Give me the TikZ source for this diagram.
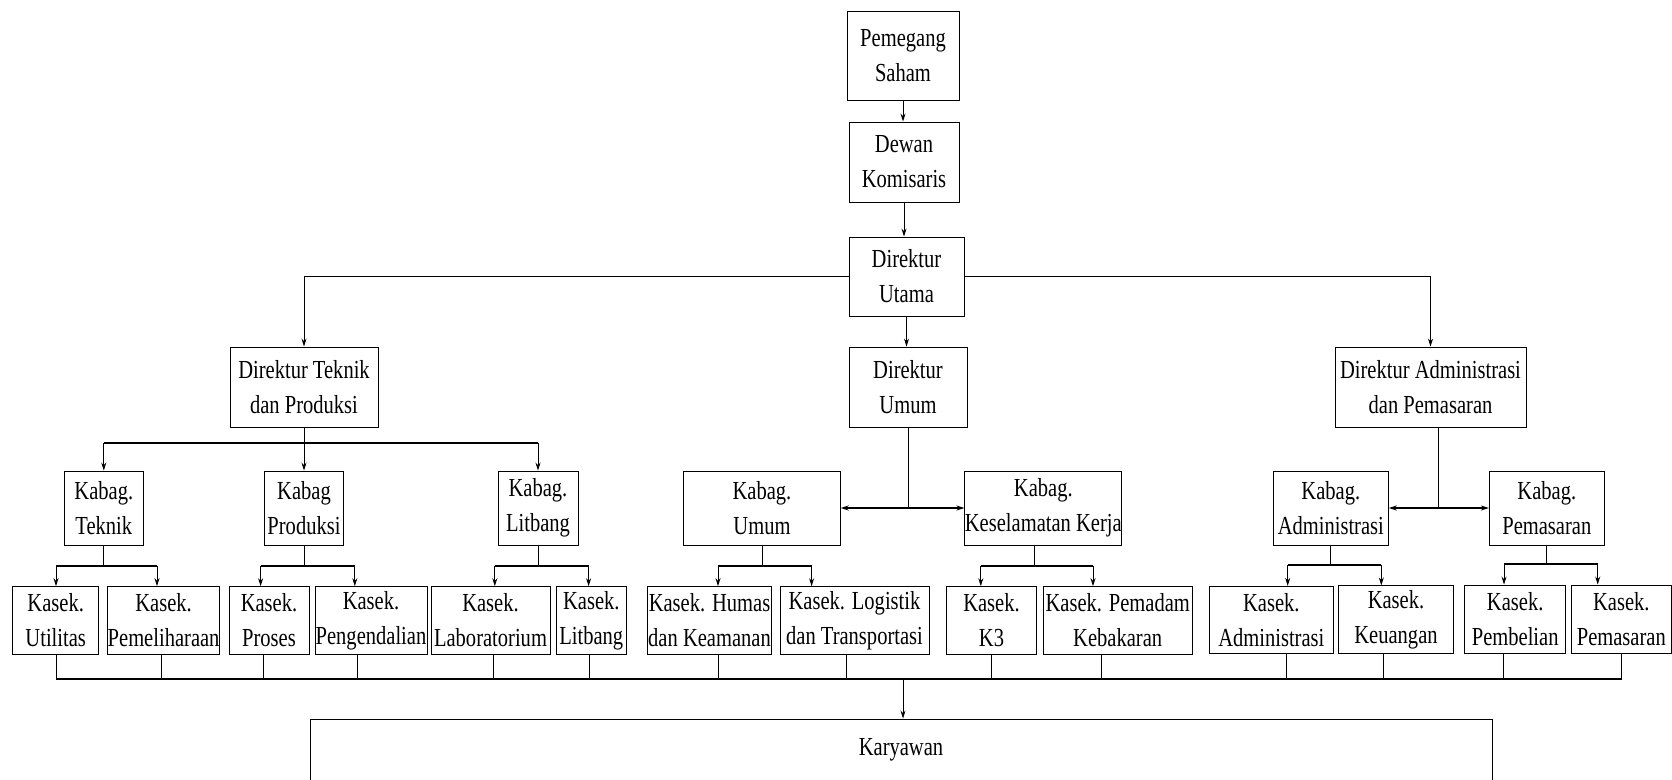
\documentclass[tikz,border=0pt]{standalone}
\usepackage{fontspec}
\setmainfont{Liberation Serif}[FakeStretch=0.79]
\usetikzlibrary{arrows.meta}
\begin{document}
\begin{tikzpicture}[x=1pt,y=-1pt,
  box/.style={draw, line width=0.9pt, inner sep=0pt, align=center, font=\fontsize{26}{35}\selectfont},
  conn/.style={line width=0.9pt},
  bar/.style={line width=1.8pt},
  arr/.style={line width=0.9pt, -{Stealth[length=8pt,width=5pt]}},
  darr/.style={line width=1.5pt, {Stealth[length=8pt,width=5pt]}-{Stealth[length=8pt,width=5pt]}},
]
\clip (0,0) rectangle (1672,779);
\fill[white] (0,0) rectangle (1672,779);

% top
\node[box, minimum width=112pt, minimum height=89pt] (ps) at (903,55.5) {Pemegang\\Saham};
\node[box, minimum width=110pt, minimum height=80pt] (dk) at (904,162) {Dewan\\Komisaris};
\node[box, minimum width=115pt, minimum height=79pt] (du) at (906.5,276.5) {Direktur\\Utama};

% directors
\node[box, minimum width=148pt, minimum height=80pt] (dt) at (304,387) {Direktur Teknik\\dan Produksi};
\node[box, minimum width=118pt, minimum height=80pt] (dum) at (908,387) {Direktur\\Umum};
\node[box, minimum width=191pt, minimum height=80pt] (da) at (1430.5,387) {Direktur Administrasi\\dan Pemasaran};

% kabag
\node[box, minimum width=79.5pt, minimum height=74pt] (kt) at (103.8,508) {Kabag.\\Teknik};
\node[box, minimum width=79.3pt, minimum height=74pt] (kp) at (304,508) {Kabag\\Produksi};
\node[box, minimum width=80pt, minimum height=74pt] (kl) at (538,508) {Kabag.\\Litbang};
\node[box, minimum width=156.5pt, minimum height=74pt] (ku) at (762,508) {Kabag.\\Umum};
\node[box, minimum width=156.6pt, minimum height=74pt] (kk) at (1043.3,508) {Kabag.\\Keselamatan Kerja};
\node[box, minimum width=115pt, minimum height=74pt] (ka) at (1330.8,508) {Kabag.\\Administrasi};
\node[box, minimum width=115pt, minimum height=74pt] (km) at (1546.8,508) {Kabag.\\Pemasaran};

% kasek
\node[box, minimum width=86pt, minimum height=67.3pt] (s1) at (55.7,620.3) {Kasek.\\Utilitas};
\node[box, minimum width=112pt, minimum height=67.3pt] (s2) at (163.6,620.3) {Kasek.\\Pemeliharaan};
\node[box, minimum width=80pt, minimum height=67.3pt] (s3) at (269,620.3) {Kasek.\\Proses};
\node[box, minimum width=112pt, minimum height=67.3pt] (s4) at (371,620.3) {Kasek.\\Pengendalian};
\node[box, minimum width=119pt, minimum height=67.3pt] (s5) at (490.5,620.3) {Kasek.\\Laboratorium};
\node[box, minimum width=69.5pt, minimum height=67.3pt] (s6) at (591.3,620.3) {Kasek.\\Litbang};
\node[box, minimum width=124pt, minimum height=67.3pt] (s7) at (709.5,620.3) {Kasek. Humas\\dan Keamanan};
\node[box, minimum width=149pt, minimum height=67.3pt] (s8) at (854.5,620.3) {Kasek. Logistik\\dan Transportasi};
\node[box, minimum width=89.6pt, minimum height=67.3pt] (s9) at (991.5,620.3) {Kasek.\\K3};
\node[box, minimum width=149.4pt, minimum height=67.3pt] (s10) at (1117.7,620.3) {Kasek. Pemadam\\Kebakaran};
\node[box, minimum width=124pt, minimum height=67.3pt] (s11) at (1271.3,620) {Kasek.\\Administrasi};
\node[box, minimum width=114.6pt, minimum height=67.3pt] (s12) at (1396,619.5) {Kasek.\\Keuangan};
\node[box, minimum width=101pt, minimum height=68pt] (s13) at (1515.2,619) {Kasek.\\Pembelian};
\node[box, minimum width=99.5pt, minimum height=68pt] (s14) at (1621.3,619) {Kasek.\\Pemasaran};

% karyawan
\node[box, minimum width=1182pt, minimum height=62pt] (kar) at (901,750) {Karyawan};

% top connectors
\draw[arr] (ps.south) -- (ps.south |- dk.north);
\draw[arr] (dk.south) -- (dk.south |- du.north);
\draw[arr] (du.south) -- (du.south |- dum.north);
\draw[bar] (du.west) -- (du.west -| dt.north);
\draw[arr] (du.west -| dt.north) -- (dt.north);
\draw[bar] (du.east) -- (du.east -| da.north);
\draw[arr] (du.east -| da.north) -- (da.north);

% level coordinates
\coordinate (yA) at (0,442.7);
\coordinate (yC) at (0,679);

% direktur teknik to kabag
\draw[conn] (dt.south) -- (dt.south |- yA);
\draw[bar] (kt.north |- yA) -- (kl.north |- yA);
\foreach \n in {kt,kp,kl} \draw[arr] (\n.north |- yA) -- (\n.north);

% direktur umum / administrasi
\draw[conn] (dum.south) -- (dum.south |- ku.east);
\draw[darr] (ku.east) -- (kk.west);
\coordinate (vda) at ([xshift=7.5pt]da.south);
\draw[conn] (vda) -- (vda |- ka.east);
\draw[darr] (ka.east) -- (km.west);

% sub bars (arrow x positions)
\coordinate (a1) at (56,566);    \coordinate (a2) at (157,566);
\coordinate (a3) at (260.6,566); \coordinate (a4) at (354.8,566);
\coordinate (a5) at (494.8,566); \coordinate (a6) at (588.6,566);
\coordinate (a7) at (718,566);   \coordinate (a8) at (811.6,566);
\coordinate (a9) at (980.8,566); \coordinate (a10) at (1093,566);
\coordinate (a11) at (1287.7,565); \coordinate (a12) at (1381.3,565);
\coordinate (a13) at (1504,564); \coordinate (a14) at (1597.7,564);

\draw[conn] (kt.south) -- (kt.south |- a1);
\draw[conn] (kp.south) -- (kp.south |- a3);
\draw[conn] (kl.south) -- (kl.south |- a5);
\draw[conn] (ku.south) -- (ku.south |- a7);
\coordinate (vkk) at ([xshift=-9.3pt]kk.south);
\draw[conn] (vkk) -- (vkk |- a9);
\draw[conn] (ka.south) -- (ka.south |- a11);
\draw[conn] (km.south) -- (km.south |- a13);

\foreach \l/\r in {a1/a2,a3/a4,a5/a6,a7/a8,a9/a10,a11/a12,a13/a14}
  \draw[bar] (\l) -- (\r);
\foreach \i in {1,...,14}
  \draw[arr] (a\i) -- (a\i |- s\i.north);

% bus to karyawan
\coordinate (d1) at (56,679);     \coordinate (d2) at (161,679);
\coordinate (d3) at (263,679);    \coordinate (d4) at (357,679);
\coordinate (d5) at (493,679);    \coordinate (d6) at (589,679);
\coordinate (d7) at (718,679);    \coordinate (d8) at (846.5,679);
\coordinate (d9) at (991,679);    \coordinate (d10) at (1101.7,679);
\coordinate (d11) at (1286.7,679); \coordinate (d12) at (1383,679);
\coordinate (d13) at (1503.3,679); \coordinate (d14) at (1621.7,679);
\foreach \i in {1,...,14}
  \draw[conn] (d\i |- s\i.south) -- (d\i);
\draw[bar] (d1) -- (d14);
\coordinate (dk0) at (903,679);
\draw[arr] (dk0) -- (dk0 |- kar.north);
\end{tikzpicture}
\end{document}
